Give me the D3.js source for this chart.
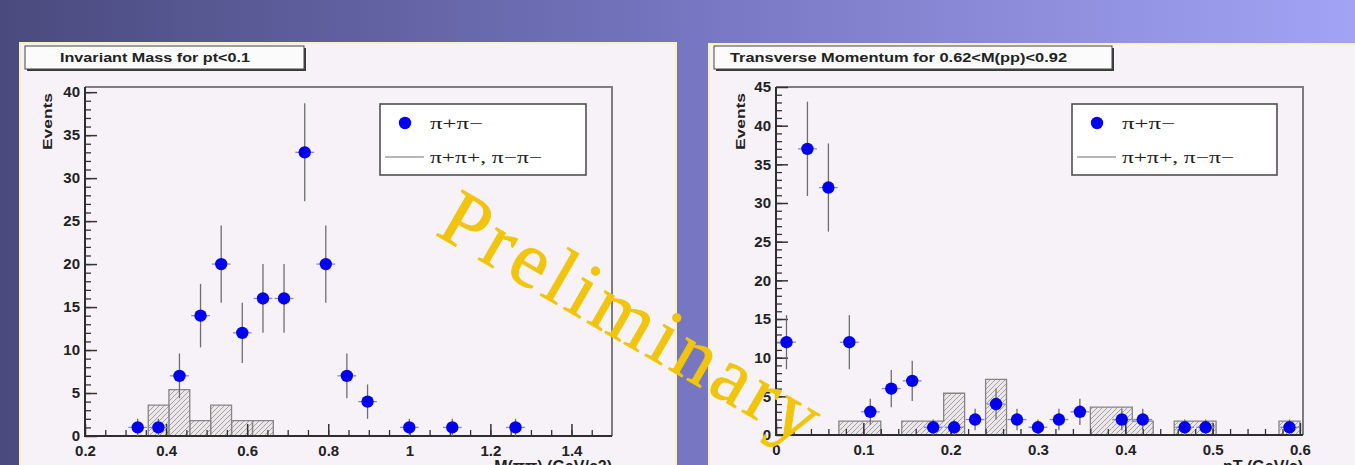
<!DOCTYPE html>
<html>
<head>
<meta charset="utf-8">
<script src="https://cdn.jsdelivr.net/npm/d3@7"></script>
<style>
	body { margin: 0; overflow: hidden; }
	svg { display: block; }
</style>
</head>
<body>
<svg id="chart" width="1355" height="465"></svg>
<script>
// values

// left: invariant mass, pi+pi- points
const massCenters = [0.330, 0.381, 0.433, 0.485, 0.536, 0.588, 0.639, 0.691, 0.742, 0.794, 0.846, 0.897, 1.000, 1.106, 1.262]
const massCounts  = [1, 1, 7, 14, 20, 12, 16, 16, 33, 20, 7, 4, 1, 1, 1]
const massErrors  = [1, 1, 2.6, 3.7, 4.5, 3.5, 4, 4, 5.7, 4.5, 2.6, 2, 1, 1, 1]
// left: like-sign histogram (bin low edges, contents)
const massHistEdges  = [0.356, 0.407, 0.459, 0.510, 0.562, 0.613]
const massHistCounts = [3.6, 5.4, 1.8, 3.6, 1.8, 1.8]
const massBinWidth = 0.0515

// right: transverse momentum, pi+pi- points
const ptCenters = [0.012, 0.036, 0.060, 0.084, 0.108, 0.132, 0.156, 0.180, 0.204, 0.228, 0.252, 0.276, 0.300, 0.324, 0.348, 0.396, 0.420, 0.468, 0.492, 0.588]
const ptCounts  = [12, 37, 32, 12, 3, 6, 7, 1, 1, 2, 4, 2, 1, 2, 3, 2, 2, 1, 1, 1]
const ptErrors  = [3.5, 6.1, 5.7, 3.5, 1.7, 2.4, 2.6, 1, 1, 1.4, 2, 1.4, 1, 1.4, 1.7, 1.4, 1.4, 1, 1, 1]
// right: like-sign histogram
const ptHistEdges  = [0.072, 0.096, 0.144, 0.168, 0.192, 0.240, 0.360, 0.384, 0.408, 0.456, 0.480, 0.576]
const ptHistCounts = [1.8, 1.8, 1.8, 1.8, 5.4, 7.2, 3.6, 3.6, 1.8, 1.8, 1.8, 1.8]
const ptBinWidth = 0.024

// tick labels
const massTicks = [0.2, 0.4, 0.6, 0.8, 1, 1.2, 1.4]
const ptTicks = [0, 0.1, 0.2, 0.3, 0.4, 0.5, 0.6]
const massCountTicks = [0, 5, 10, 15, 20, 25, 30, 35, 40]
const ptCountTicks = [0, 5, 10, 15, 20, 25, 30, 35, 40, 45]

const legendLabels = ['\u03c0+\u03c0\u2212', '\u03c0+\u03c0+, \u03c0\u2212\u03c0\u2212']

const svg = d3.select('#chart')
const defs = svg.append('defs')

// slide background
const grad = defs.append('linearGradient').attr('id', 'bg')
grad.append('stop').attr('offset', 0).attr('stop-color', '#4a4a7e')
grad.append('stop').attr('offset', 0.5).attr('stop-color', '#7575c0')
grad.append('stop').attr('offset', 1).attr('stop-color', '#a3a3f5')
svg.append('rect').attr('width', 1355).attr('height', 465).attr('fill', 'url(#bg)')

// hatch for the histograms
const hatch = defs.append('pattern')
	.attr('id', 'hatch')
	.attr('patternUnits', 'userSpaceOnUse')
	.attr('width', 5).attr('height', 5)
hatch.append('rect').attr('width', 5).attr('height', 5).attr('fill', '#ebe7eb')
hatch.append('path')
	.attr('d', 'M-1,1 L1,-1 M0,5 L5,0 M4,6 L6,4')
	.attr('stroke', '#8e8e8e').attr('stroke-width', 0.8)

const fmt = d3.format('~g')

function drawPanel(p) {
	const g = svg.append('g')

	// pad
	g.append('rect')
		.attr('x', p.pad[0]).attr('y', p.pad[1])
		.attr('width', p.pad[2]).attr('height', p.pad[3])
		.attr('fill', '#f7f2f7')
		.attr('stroke', '#f6f4b8').attr('stroke-width', 2)

	// title box
	const t = p.titleBox
	g.append('rect').attr('x', t[0] + 2).attr('y', t[1] + 2)
		.attr('width', t[2]).attr('height', t[3]).attr('fill', '#3a3a3a')
	g.append('rect').attr('x', t[0]).attr('y', t[1])
		.attr('width', t[2]).attr('height', t[3])
		.attr('fill', '#fbfbfb').attr('stroke', '#444').attr('stroke-width', 1)
	g.append('text')
		.attr('x', p.titleX).attr('y', t[1] + t[3] / 2 + 4.5)
		.attr('font-family', 'Liberation Sans, Arial, sans-serif')
		.attr('font-weight', 'bold').attr('font-size', 12)
		.attr('textLength', p.titleLen).attr('lengthAdjust', 'spacingAndGlyphs')
		.attr('fill', '#222')
		.text(p.title)

	const f = p.frame
	const x = d3.scaleLinear().domain(p.xDomain).range([f.left, f.right])
	const y = d3.scaleLinear().domain(p.yDomain).range([f.bottom, f.top])

	// histogram fill + step outline
	g.selectAll('rect.bin')
		.data(p.histEdges)
		.join('rect')
		.attr('class', 'bin')
		.attr('x', d => x(d))
		.attr('width', d => x(d + p.binWidth) - x(d))
		.attr('y', (d, i) => y(p.histCounts[i]))
		.attr('height', (d, i) => y(0) - y(p.histCounts[i]))
		.attr('fill', 'url(#hatch)')

	const path = d3.path()
	p.histEdges.forEach((e, i) => {
		const v = p.histCounts[i]
		const prev = i > 0 ? p.histEdges[i - 1] : null
		const joined = prev !== null && Math.abs(prev + p.binWidth - e) < 1e-6
		if (!joined) {
			if (i > 0) path.lineTo(x(prev + p.binWidth), y(0))
			path.moveTo(x(e), y(0))
		}
		path.lineTo(x(e), y(v))
		path.lineTo(x(e + p.binWidth), y(v))
	})
	const last = p.histEdges[p.histEdges.length - 1]
	path.lineTo(x(last + p.binWidth), y(0))
	g.append('path').attr('d', path.toString())
		.attr('fill', 'none').attr('stroke', '#858585').attr('stroke-width', 1.3)

	// frame: top/right grey, axes dark
	g.append('path')
		.attr('d', `M${f.left},${f.top}H${f.right}V${f.bottom}`)
		.attr('fill', 'none').attr('stroke', '#7d7d7d').attr('stroke-width', 2)

	const labelStyle = sel => sel.selectAll('text')
		.attr('font-family', 'Liberation Sans, Arial, sans-serif')
		.attr('font-weight', 'bold').attr('font-size', 15).attr('fill', '#222')

	// minor ticks
	g.append('g').attr('transform', `translate(0,${f.bottom})`)
		.call(d3.axisBottom(x).tickValues(p.xMinor).tickSizeInner(-6).tickSizeOuter(0).tickFormat(''))
		.call(a => a.select('.domain').remove())
		.call(a => a.selectAll('line').attr('stroke', '#333').attr('stroke-width', 1.3))
	g.append('g').attr('transform', `translate(${f.left},0)`)
		.call(d3.axisLeft(y).tickValues(p.yMinor).tickSizeInner(-6).tickSizeOuter(0).tickFormat(''))
		.call(a => a.select('.domain').remove())
		.call(a => a.selectAll('line').attr('stroke', '#333').attr('stroke-width', 1.3))

	// major ticks + labels
	g.append('g').attr('transform', `translate(0,${f.bottom})`)
		.call(d3.axisBottom(x).tickValues(p.xTicks).tickSizeInner(-12).tickSizeOuter(0).tickPadding(9).tickFormat(fmt))
		.call(a => a.select('.domain').remove())
		.call(a => a.selectAll('line').attr('stroke', '#333').attr('stroke-width', 1.5))
		.call(labelStyle)
	g.append('g').attr('transform', `translate(${f.left},0)`)
		.call(d3.axisLeft(y).tickValues(p.yTicks).tickSizeInner(-12).tickSizeOuter(0).tickPadding(5).tickFormat(fmt))
		.call(a => a.select('.domain').remove())
		.call(a => a.selectAll('line').attr('stroke', '#333').attr('stroke-width', 1.5))
		.call(labelStyle)

	g.append('path')
		.attr('d', `M${f.left},${f.top}V${f.bottom}H${f.right}`)
		.attr('fill', 'none').attr('stroke', '#2e2e2e').attr('stroke-width', 2)

	// axis titles
	g.append('text')
		.attr('transform', `translate(${p.yTitleX},${f.top + 6}) rotate(-90)`)
		.attr('text-anchor', 'end')
		.attr('font-family', 'Liberation Sans, Arial, sans-serif')
		.attr('font-weight', 'bold').attr('font-size', 13).attr('fill', '#222')
		.attr('textLength', 57).attr('lengthAdjust', 'spacingAndGlyphs')
		.text('Events')
	// x titles sit at the slide's bottom edge, partly cut off as in the original
	g.append('text')
		.attr('x', f.right).attr('y', 472)
		.attr('text-anchor', 'end')
		.attr('font-family', 'Liberation Sans, Arial, sans-serif')
		.attr('font-weight', 'bold').attr('font-size', 16).attr('fill', '#222')
		.text(p.xTitle)

	// points with error bars
	const pts = g.selectAll('g.pt')
		.data(p.centers)
		.join('g').attr('class', 'pt')
	pts.append('line')
		.attr('x1', d => x(d)).attr('x2', d => x(d))
		.attr('y1', (d, i) => y(Math.max(0, p.counts[i] - p.errors[i])))
		.attr('y2', (d, i) => y(p.counts[i] + p.errors[i]))
		.attr('stroke', '#6e6e6e').attr('stroke-width', 1.3)
	pts.append('line')
		.attr('x1', d => x(d - p.binWidth * 0.45)).attr('x2', d => x(d + p.binWidth * 0.45))
		.attr('y1', (d, i) => y(p.counts[i])).attr('y2', (d, i) => y(p.counts[i]))
		.attr('stroke', '#8a8ab8').attr('stroke-width', 1.3)
	pts.append('circle')
		.attr('cx', d => x(d)).attr('cy', (d, i) => y(p.counts[i]))
		.attr('r', 6.2).attr('fill', '#0000ee')

	// legend
	const L = p.legend
	g.append('rect').attr('x', L[0]).attr('y', L[1]).attr('width', L[2]).attr('height', L[3])
		.attr('fill', '#ffffff').attr('stroke', '#505050').attr('stroke-width', 1.6)
	g.append('circle').attr('cx', L[0] + 25).attr('cy', L[1] + 19).attr('r', 6.2).attr('fill', '#0000ee')
	g.append('line')
		.attr('x1', L[0] + 5).attr('x2', L[0] + 44)
		.attr('y1', L[1] + 53).attr('y2', L[1] + 53)
		.attr('stroke', '#707070').attr('stroke-width', 1.2)
	const legTxt = [[L[1] + 25, 53], [L[1] + 59, 112]]
	legTxt.forEach((r, i) => {
		g.append('text')
			.attr('x', L[0] + 50).attr('y', r[0])
			.attr('font-family', 'Liberation Serif, Times New Roman, serif')
			.attr('font-size', 17).attr('fill', '#222')
			.attr('textLength', r[1]).attr('lengthAdjust', 'spacingAndGlyphs')
			.text(legendLabels[i])
	})
}

drawPanel({
	pad: [20, 43, 656, 440],
	titleBox: [25, 46, 279, 23], titleX: 60, titleLen: 190,
	title: 'Invariant Mass for pt<0.1',
	frame: { left: 85, right: 612, top: 87, bottom: 436 },
	xDomain: [0.2, 1.5], yDomain: [0, 40.6],
	xTicks: massTicks, yTicks: massCountTicks,
	xMinor: d3.range(0.25, 1.5, 0.05), yMinor: d3.range(1, 41, 1),
	yTitleX: 52,
	xTitle: 'M(\u03c0\u03c0) (GeV/c2)',
	centers: massCenters, counts: massCounts, errors: massErrors,
	histEdges: massHistEdges, histCounts: massHistCounts, binWidth: massBinWidth,
	legend: [380, 104, 206, 71]
})

drawPanel({
	pad: [709, 44, 660, 440],
	titleBox: [714, 46, 398, 23], titleX: 730, titleLen: 337,
	title: 'Transverse Momentum for 0.62<M(pp)<0.92',
	frame: { left: 776, right: 1303, top: 87, bottom: 435 },
	xDomain: [0, 0.6035], yDomain: [0, 45],
	xTicks: ptTicks, yTicks: ptCountTicks,
	xMinor: d3.range(0.02, 0.6, 0.02), yMinor: d3.range(1, 45, 1),
	yTitleX: 745,
	xTitle: 'pT (GeV/c)',
	centers: ptCenters, counts: ptCounts, errors: ptErrors,
	histEdges: ptHistEdges, histCounts: ptHistCounts, binWidth: ptBinWidth,
	legend: [1072, 104, 205, 71]
})

// watermark
svg.append('text')
	.attr('transform', 'translate(434,234) rotate(30)')
	.attr('font-family', 'Liberation Serif, Times New Roman, serif')
	.attr('font-size', 80)
	.attr('fill', '#f1c40d')
	.attr('stroke', '#f1c40d').attr('stroke-width', 0.8)
	.attr('textLength', 425).attr('lengthAdjust', 'spacing')
	.text('Preliminary')
</script>
</body>
</html>
